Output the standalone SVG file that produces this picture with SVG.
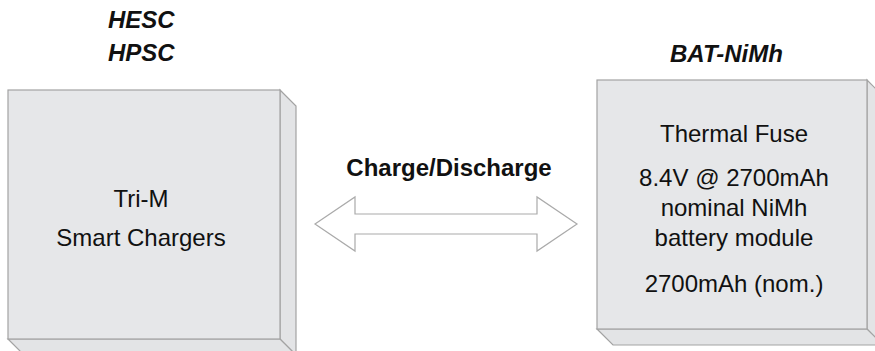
<svg xmlns="http://www.w3.org/2000/svg" width="875" height="351" viewBox="0 0 875 351">
<style>
.face{fill:#e6e7e9;stroke:#a3a3a3;stroke-width:1.2}
.side{fill:#e3e4e6;stroke:#a3a3a3;stroke-width:1.2}
.t{font-family:"Liberation Sans",Arial,sans-serif;font-size:24px;fill:#111;text-anchor:middle}
.lbl{font-family:"Liberation Sans",Arial,sans-serif;font-size:24px;font-weight:bold;font-style:italic;fill:#111}
.arrow{fill:#fff;stroke:#aaa;stroke-width:1.2}
</style>
<rect width="875" height="351" fill="#fff"/>
<g id="charger">
<polygon class="side" points="280,90 296,106 296,355 280,339"/>
<polygon class="side" points="8,339 280,339 296,355 24,355"/>
<rect class="face" x="8" y="90" width="272" height="249"/>
<text class="t" x="141" y="207">Tri-M</text>
<text class="t" x="141" y="246">Smart Chargers</text>
<text class="lbl" x="108" y="28">HESC</text>
<text class="lbl" x="108" y="61">HPSC</text>
</g>
<g id="battery">
<polygon class="side" points="867,80 883,96 883,345 867,329"/>
<polygon class="side" points="597,329 867,329 883,345 613,345"/>
<rect class="face" x="597" y="80" width="270" height="249"/>
<text class="t" x="734" y="142">Thermal Fuse</text>
<text class="t" x="734" y="186">8.4V @ 2700mAh</text>
<text class="t" x="734" y="216">nominal NiMh</text>
<text class="t" x="734" y="246">battery module</text>
<text class="t" x="734" y="292">2700mAh (nom.)</text>
<text class="lbl" x="670" y="62">BAT-NiMh</text>
</g>
<g id="connectors">
<polygon class="arrow" points="315,224 355,197 355,214 537,214 537,197 577,224 537,251 537,234 355,234 355,251"/>
<text x="449" y="176" font-family="'Liberation Sans',Arial,sans-serif" font-size="24" font-weight="bold" fill="#111" text-anchor="middle">Charge/Discharge</text>
</g>
</svg>
